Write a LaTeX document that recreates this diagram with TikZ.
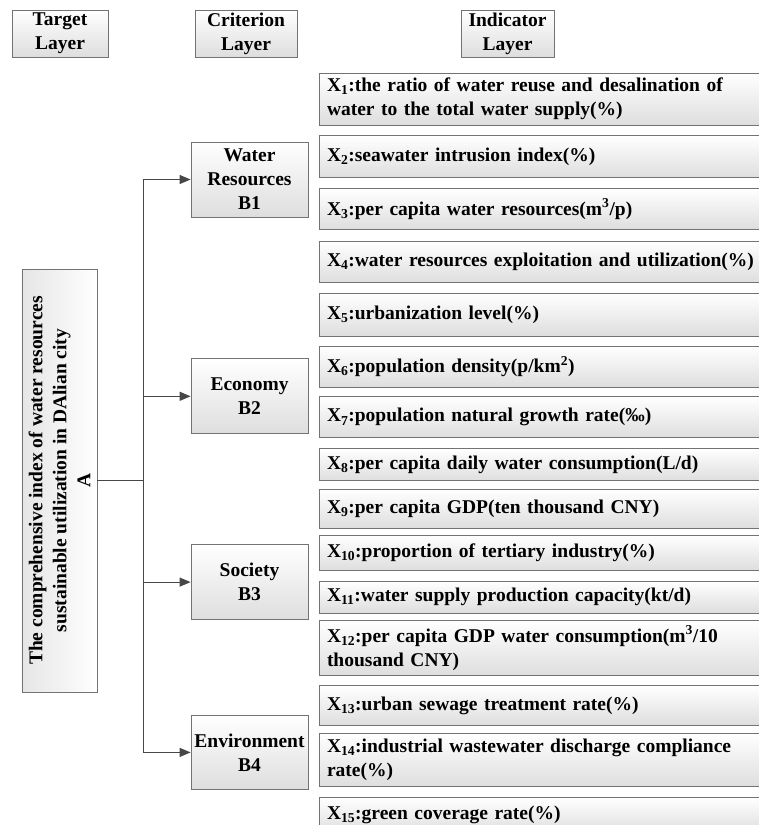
\documentclass[tikz,border=0pt]{standalone}
\usepackage{fontspec}
\setmainfont{Liberation Serif}
\usetikzlibrary{arrows.meta,positioning}

\begin{document}
\begin{tikzpicture}[
  x=1pt, y=-1pt,
  font=\bfseries\fontsize{19.5}{24}\selectfont,
  node distance=10pt,
  box/.style={
    draw=black!55,
    line width=.8pt,
    top color=white,
    bottom color=black!13,
    inner sep=0pt,
    align=center
  },
  layer/.style={box, minimum width=96pt, minimum height=47pt},
  crit/.style={box, minimum width=117pt, minimum height=75pt},
  ind/.style={box, align=left, text width=440pt, inner xsep=8pt, minimum height=41pt},
  arrow/.style={-{Triangle[length=11pt,width=9pt]}, line width=1.1pt, draw=black!72}
]
\useasboundingbox (0,0) rectangle (759,825);
\clip (0,0) rectangle (759,825);

% layer headings
\node[layer] (target) at (60,33.5) {Target\\Layer};
\node[layer, minimum width=102pt] (crithead) at (246,33.5) {Criterion\\Layer};
\node[layer, minimum width=93pt] (indhead) at (507.5,33.5) {Indicator\\Layer};

% target layer
\node[box, rotate=90, left color=black!10, right color=white,
  minimum width=423pt, minimum height=75pt] (a) at (59.5,480.5)
  {The comprehensive index of water resources\\sustainable utilization in DAlian city\\A};

% criterion layer
\node[crit] (b1) at (249.5,179.5) {Water\\Resources\\B1};
\node[crit, below=141pt of b1] (b2) {Economy\\B2};
\node[crit, below=110pt of b2] (b3) {Society\\B3};
\node[crit, below=95pt of b3, minimum height=74pt] (b4) {Environment\\B4};

% indicator layer
\node[ind, minimum height=52pt] (x1) at (547,99)
  {X\textsubscript{1}:the ratio of water reuse and desalination of\\water to the total water supply(\%)};
\node[ind, below=10pt of x1, minimum height=42pt] (x2) {X\textsubscript{2}:seawater intrusion index(\%)};
\node[ind, below=10pt of x2] (x3) {X\textsubscript{3}:per capita water resources(m\textsuperscript{3}/p)};
\node[ind, below=11pt of x3] (x4) {X\textsubscript{4}:water resources exploitation and utilization(\%)};
\node[ind, below=10pt of x4, minimum height=43pt] (x5) {X\textsubscript{5}:urbanization level(\%)};
\node[ind, below=9pt of x5] (x6) {X\textsubscript{6}:population density(p/km\textsuperscript{2})};
\node[ind, below=9pt of x6] (x7) {X\textsubscript{7}:population natural growth rate(‰)};
\node[ind, below=10pt of x7, minimum height=32pt] (x8) {X\textsubscript{8}:per capita daily water consumption(L/d)};
\node[ind, below=8pt of x8, minimum height=39pt] (x9) {X\textsubscript{9}:per capita GDP(ten thousand CNY)};
\node[ind, below=6pt of x9, minimum height=35pt] (x10) {X\textsubscript{10}:proportion of tertiary industry(\%)};
\node[ind, below=10pt of x10, minimum height=32pt] (x11) {X\textsubscript{11}:water supply production capacity(kt/d)};
\node[ind, below=7pt of x11, minimum height=55pt] (x12)
  {X\textsubscript{12}:per capita GDP water consumption(m\textsuperscript{3}/10\\thousand CNY)};
\node[ind, below=9pt of x12, minimum height=40pt] (x13) {X\textsubscript{13}:urban sewage treatment rate(\%)};
\node[ind, below=7pt of x13, minimum height=53pt] (x14)
  {X\textsubscript{14}:industrial wastewater discharge compliance\\rate(\%)};
\node[ind, below=10pt of x14, minimum height=36pt] (x15) {X\textsubscript{15}:green coverage rate(\%)};

\draw[arrow] (a.south) -- ++(46,0) |- (b1);
\draw[arrow] (a.south) -- ++(46,0) |- (b2);
\draw[arrow] (a.south) -- ++(46,0) |- (b3);
\draw[arrow] (a.south) -- ++(46,0) |- (b4);
\end{tikzpicture}
\end{document}
